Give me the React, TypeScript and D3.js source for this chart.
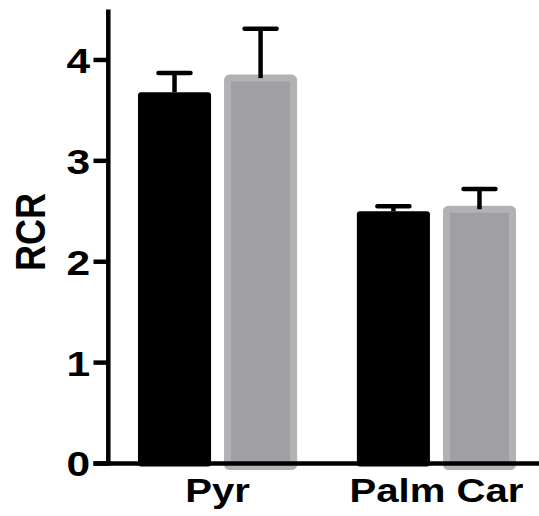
import React from "react";
import * as d3 from "d3";

const categories = ["Pyr", "Palm Car"];
const seriesNames = ["Control", "Treated"];
const seriesValues = [
  [3.68, 2.5],
  [3.82, 2.52],
];
const seriesErrors = [
  [0.19, 0.05],
  [0.49, 0.2],
];
const yTicks = [0, 1, 2, 3, 4];
const yLabel = "RCR";

const W = 539;
const H = 516;
const FONT = "'Liberation Sans', Arial, Helvetica, sans-serif";
const SX = 1.18;

export default function App() {
  const y = d3.scaleLinear().domain([0, 4.5]).range([463.5, 9.5]);
  const x0 = d3
    .scaleBand<string>()
    .domain(categories)
    .range([108, 546])
    .paddingInner(0.273)
    .paddingOuter(0.137);
  const x1 = d3
    .scaleBand<string>()
    .domain(seriesNames)
    .range([0, x0.bandwidth()])
    .paddingInner(0.151)
    .paddingOuter(0);
  const axisX = 108.3;
  const gStroke = 7;

  return (
    <svg
      width={W}
      height={H}
      style={{ position: "absolute", left: 0, top: 0 }}
      fontFamily={FONT}
    >
      <rect width={W} height={H} fill="#fff" />
      {categories.map((c, ci) =>
        seriesNames.map((s, si) => {
          const v = seriesValues[si][ci];
          const e = seriesErrors[si][ci];
          const bx = (x0(c) ?? 0) + (x1(s) ?? 0);
          const bw = x1.bandwidth();
          const cx = bx + bw / 2;
          const yTop = y(v);
          const yBase = y(0);
          return (
            <g key={c + s}>
              {si === 0 ? (
                <rect
                  x={bx}
                  y={yTop}
                  width={bw}
                  height={yBase - yTop + 3}
                  rx={3}
                  fill="#000"
                />
              ) : (
                <rect
                  x={bx + gStroke / 2}
                  y={yTop}
                  width={bw - gStroke}
                  height={yBase - yTop + 3}
                  rx={2}
                  fill="#a09fa4"
                  stroke="#b2b2b4"
                  strokeWidth={gStroke}
                />
              )}
              <line
                x1={cx}
                x2={cx}
                y1={yTop}
                y2={y(v + e)}
                stroke="#000"
                strokeWidth={4.5}
              />
              <line
                x1={cx - 16}
                x2={cx + 16}
                y1={y(v + e)}
                y2={y(v + e)}
                stroke="#000"
                strokeWidth={4.5}
                strokeLinecap="round"
              />
            </g>
          );
        })
      )}
      {/* x axis */}
      <line x1={93.5} x2={W} y1={y(0)} y2={y(0)} stroke="#000" strokeWidth={4.5} />
      {/* y axis */}
      <line x1={axisX} x2={axisX} y1={y(4.5)} y2={y(0) + 2} stroke="#000" strokeWidth={4.5} />
      {yTicks.map((t) => (
        <g key={t}>
          <line x1={93.5} x2={axisX} y1={y(t)} y2={y(t)} stroke="#000" strokeWidth={4.5} />
          <g transform={`translate(90,${y(t)}) scale(${SX},1)`}>
            <text
              textAnchor="end"
              dy="0.36em"
              fontSize={36}
              fontWeight="bold"
              fill="#000"
            >
              {t}
            </text>
          </g>
        </g>
      ))}
      {categories.map((c) => (
        <g
          key={c}
          transform={`translate(${(x0(c) ?? 0) + x0.bandwidth() / 2},502) scale(${SX},1)`}
        >
          <text textAnchor="middle" fontSize={34} fontWeight="bold" fill="#000">
            {c}
          </text>
        </g>
      ))}
      <g transform={`translate(45,232) scale(${SX},1)`}>
        <text
          transform="rotate(-90)"
          textAnchor="middle"
          fontSize={36}
          fontWeight="bold"
          fill="#000"
        >
          {yLabel}
        </text>
      </g>
    </svg>
  );
}
